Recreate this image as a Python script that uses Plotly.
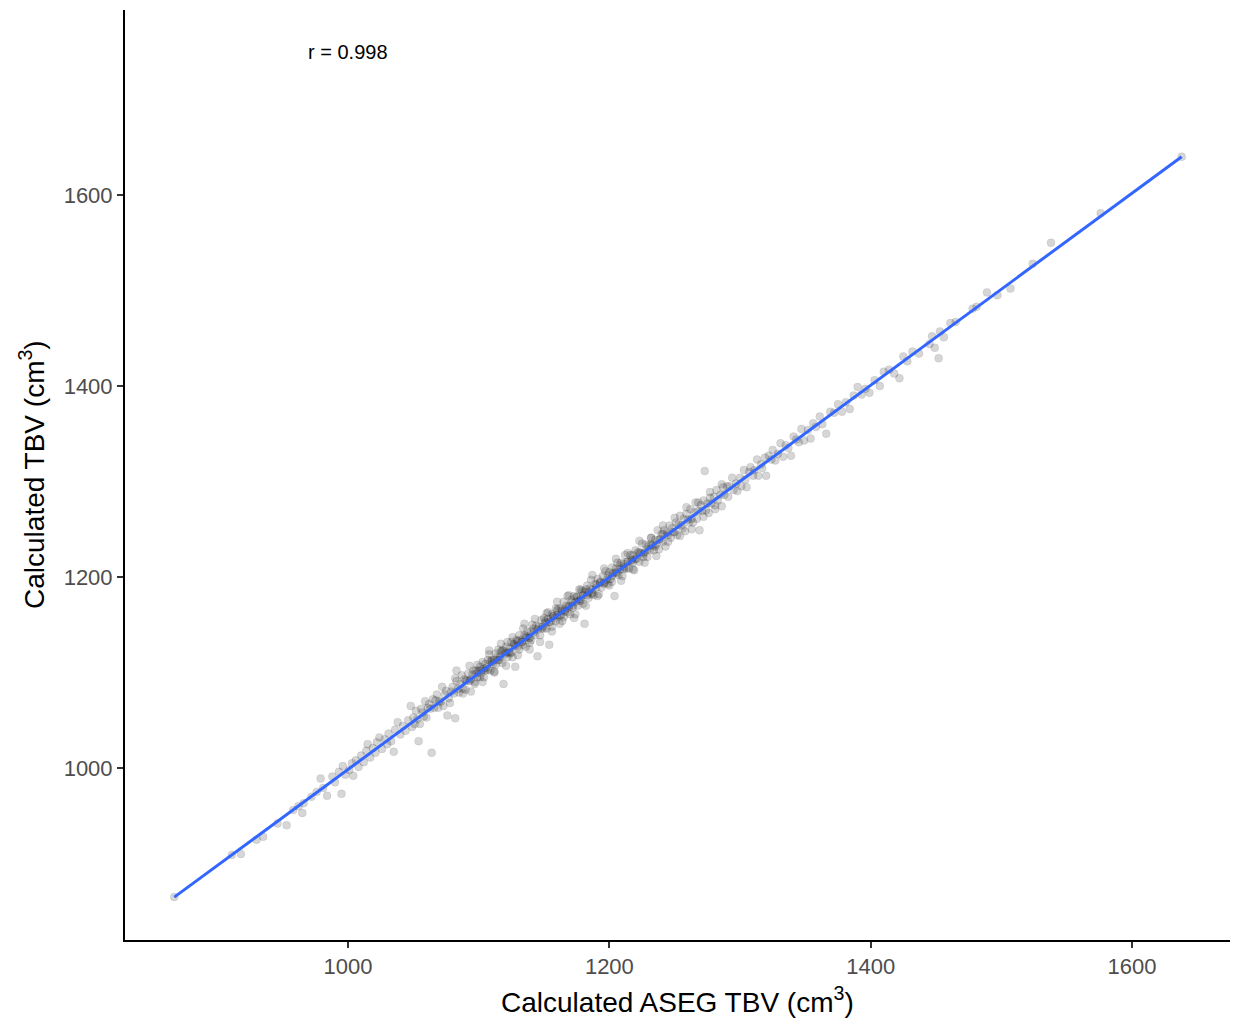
import numpy as np
import plotly.graph_objects as go

# Total brain volume (cm^3): ASEG-derived (x) vs calculated (y), grouped by x range
aseg_a = [867, 911, 918, 930, 935, 946, 953, 958, 962, 965, 966, 972, 976, 979, 981, 984, 988, 990, 993, 995, 996, 998]
tbv_a = [865, 909, 910, 925, 928, 942, 940, 956, 960, 953, 963, 970, 975, 989, 979, 971, 991, 985, 996, 973, 1002, 993]

aseg_b = [1001, 1003, 1004, 1006, 1008, 1010, 1012, 1014, 1015, 1017, 1019, 1021, 1022, 1024, 1026, 1028, 1030, 1031,
          1033, 1035, 1036, 1038, 1040, 1042, 1044, 1046, 1048, 1049]
tbv_b = [998, 1005, 992, 1008, 1001, 1013, 1006, 1018, 1025, 1011, 1021, 1016, 1027, 1032, 1020, 1030, 1025, 1036,
         1028, 1017, 1040, 1048, 1035, 1044, 1039, 1050, 1065, 1043]

aseg_c = [1050, 1051, 1052, 1053, 1054, 1055, 1056, 1057, 1058, 1059, 1060, 1061, 1062, 1063, 1064, 1065, 1066, 1067,
          1068, 1069, 1070, 1071, 1072, 1073, 1074, 1075, 1076, 1077, 1078, 1079, 1080, 1081, 1082, 1083, 1083, 1084,
          1085, 1086, 1087, 1088, 1089, 1090, 1091, 1092, 1093, 1094, 1095, 1096, 1097, 1098, 1099, 1099]
tbv_c = [1053, 1046, 1060, 1051, 1028, 1046, 1062, 1058, 1054, 1070, 1053, 1063, 1067, 1062, 1016, 1072, 1063, 1071,
         1077, 1063, 1070, 1069, 1085, 1065, 1077, 1081, 1055, 1073, 1068, 1080, 1085, 1078, 1052, 1091, 1102, 1083,
         1079, 1088, 1097, 1083, 1093, 1082, 1091, 1099, 1091, 1080, 1098, 1102, 1090, 1099, 1108, 1095]

aseg_d = [1100, 1101, 1101, 1102, 1103, 1104, 1104, 1105, 1106, 1107, 1107, 1108, 1109, 1110, 1110, 1111, 1112, 1113,
          1113, 1114, 1115, 1116, 1116, 1117, 1118, 1119, 1119, 1120, 1121, 1122, 1122, 1123, 1124, 1125, 1125, 1126,
          1127, 1128, 1128, 1129, 1130, 1131, 1131, 1132, 1133, 1134, 1134, 1135, 1136, 1137, 1137, 1138, 1139, 1140,
          1140, 1141, 1142, 1143, 1144, 1145, 1146, 1147, 1148, 1149]
tbv_d = [1102, 1095, 1106, 1099, 1111, 1104, 1095, 1109, 1105, 1113, 1103, 1119, 1102, 1111, 1113, 1109, 1100, 1120,
         1108, 1116, 1124, 1113, 1116, 1122, 1110, 1088, 1123, 1119, 1127, 1116, 1132, 1121, 1125, 1121, 1132, 1116,
         1130, 1106, 1128, 1134, 1127, 1139, 1124, 1134, 1132, 1146, 1129, 1139, 1127, 1138, 1143, 1136, 1124, 1143,
         1134, 1150, 1142, 1139, 1149, 1117, 1148, 1139, 1155, 1148]

aseg_e = [1150, 1150, 1151, 1152, 1153, 1153, 1154, 1155, 1156, 1156, 1157, 1158, 1159, 1159, 1160, 1161, 1162, 1162,
          1163, 1164, 1165, 1165, 1166, 1167, 1168, 1168, 1169, 1170, 1171, 1171, 1172, 1173, 1174, 1174, 1175, 1176,
          1177, 1177, 1178, 1179, 1180, 1180, 1181, 1182, 1183, 1183, 1184, 1185, 1186, 1186, 1187, 1188, 1189, 1190,
          1191, 1192, 1193, 1194, 1195, 1196, 1197, 1198, 1199]
tbv_e = [1146, 1157, 1152, 1146, 1156, 1163, 1129, 1153, 1161, 1148, 1159, 1157, 1167, 1154, 1160, 1167, 1159, 1151,
         1167, 1165, 1158, 1174, 1164, 1170, 1163, 1180, 1168, 1161, 1176, 1173, 1168, 1180, 1161, 1174, 1179, 1170,
         1187, 1175, 1175, 1185, 1172, 1181, 1151, 1187, 1181, 1191, 1178, 1188, 1197, 1182, 1187, 1181, 1193, 1189,
         1198, 1182, 1195, 1189, 1201, 1193, 1206, 1197, 1193]

aseg_f = [1200, 1201, 1202, 1202, 1203, 1204, 1205, 1206, 1206, 1207, 1208, 1209, 1210, 1211, 1211, 1212, 1213, 1214,
          1215, 1216, 1217, 1218, 1218, 1219, 1220, 1221, 1222, 1223, 1224, 1225, 1226, 1227, 1228, 1229, 1230, 1231,
          1232, 1233, 1234, 1235, 1236, 1237, 1238, 1239, 1240, 1241, 1242, 1243, 1244, 1245, 1246, 1247, 1248, 1249]
tbv_f = [1205, 1198, 1210, 1195, 1204, 1180, 1209, 1204, 1215, 1202, 1208, 1215, 1201, 1214, 1210, 1223, 1209, 1216,
         1209, 1223, 1217, 1215, 1223, 1207, 1228, 1219, 1226, 1216, 1225, 1235, 1221, 1226, 1234, 1221, 1233, 1228,
         1241, 1233, 1228, 1239, 1234, 1249, 1229, 1240, 1245, 1237, 1249, 1232, 1246, 1244, 1254, 1241, 1251, 1247]

aseg_g = [1250, 1251, 1252, 1253, 1254, 1255, 1256, 1257, 1258, 1259, 1260, 1261, 1262, 1263, 1264, 1265, 1266, 1267,
          1268, 1269, 1270, 1271, 1272, 1273, 1274, 1275, 1276, 1277, 1278, 1280, 1281, 1282, 1283, 1285, 1286, 1287,
          1288, 1290, 1291, 1292, 1294, 1295, 1297, 1298]
tbv_g = [1247, 1257, 1244, 1255, 1264, 1254, 1251, 1261, 1248, 1266, 1260, 1257, 1271, 1261, 1257, 1268, 1278, 1261,
         1269, 1249, 1275, 1269, 1280, 1311, 1270, 1277, 1267, 1283, 1277, 1284, 1275, 1291, 1280, 1286, 1274, 1294,
         1286, 1295, 1284, 1295, 1304, 1291, 1298, 1290]

aseg_h = [1300, 1301, 1303, 1304, 1305, 1307, 1308, 1310, 1311, 1313, 1314, 1316, 1317, 1319, 1320, 1322, 1324, 1325,
          1327, 1329, 1331, 1333, 1335, 1337, 1339, 1341, 1343, 1345, 1347, 1349, 1352, 1354, 1356, 1358, 1361, 1363,
          1366, 1369, 1372, 1375, 1378, 1381, 1384, 1387, 1390, 1393, 1396, 1399]
tbv_h = [1304, 1295, 1312, 1302, 1294, 1310, 1315, 1306, 1312, 1323, 1306, 1318, 1314, 1325, 1306, 1327, 1323, 1333,
         1322, 1329, 1340, 1326, 1338, 1335, 1327, 1347, 1344, 1341, 1355, 1343, 1354, 1345, 1361, 1357, 1368, 1360,
         1350, 1373, 1372, 1381, 1373, 1383, 1376, 1390, 1399, 1391, 1397, 1393]

aseg_i = [1403, 1407, 1410, 1414, 1418, 1422, 1425, 1428, 1432, 1437, 1445, 1447, 1449, 1452, 1453, 1456, 1461, 1465,
          1478, 1481, 1489, 1497, 1507, 1524, 1538, 1576, 1638]
tbv_i = [1406, 1400, 1415, 1417, 1413, 1408, 1431, 1426, 1436, 1434, 1444, 1452, 1440, 1429, 1457, 1451, 1466, 1467,
         1481, 1483, 1498, 1495, 1502, 1528, 1550, 1581, 1640]

# Further subjects in the crowded middle of the range
aseg_j = [1082, 1088, 1093, 1097, 1103, 1108, 1112, 1117, 1121, 1126, 1130, 1135, 1139, 1143, 1147, 1152, 1156, 1160,
          1164, 1169, 1173, 1178, 1182, 1187, 1191, 1196, 1200, 1205, 1209, 1214, 1218, 1223, 1227, 1232, 1236, 1241,
          1245, 1250, 1254, 1259, 1263, 1268, 1272, 1277, 1281, 1286]
tbv_j = [1094, 1078, 1107, 1088, 1090, 1123, 1101, 1130, 1107, 1137, 1118, 1151, 1131, 1156, 1132, 1162, 1143, 1174,
         1154, 1181, 1157, 1187, 1170, 1202, 1180, 1209, 1191, 1219, 1196, 1225, 1208, 1238, 1215, 1241, 1222, 1254,
         1237, 1262, 1243, 1273, 1250, 1278, 1263, 1289, 1271, 1297]

aseg_k = [1090, 1094, 1098, 1102, 1105, 1109, 1112, 1115, 1118, 1121, 1124, 1127, 1130, 1133, 1136, 1139, 1142, 1145,
          1148, 1151, 1154, 1157, 1160, 1163, 1166, 1169, 1172, 1175, 1178, 1181, 1184, 1187, 1190, 1193, 1196, 1199,
          1202, 1205, 1208, 1211, 1214, 1217, 1220, 1223, 1226, 1229, 1232, 1235, 1238, 1241]
tbv_k = [1092, 1093, 1102, 1102, 1102, 1112, 1113, 1113, 1123, 1121, 1120, 1129, 1133, 1132, 1137, 1136, 1146, 1145,
         1146, 1154, 1153, 1159, 1165, 1160, 1166, 1170, 1170, 1179, 1177, 1184, 1184, 1183, 1192, 1194, 1194, 1202,
         1201, 1205, 1212, 1208, 1216, 1218, 1219, 1226, 1224, 1229, 1234, 1232, 1239, 1245]

x_ticks = [1000, 1200, 1400, 1600]
y_ticks = [1000, 1200, 1400, 1600]
r_label = "r = 0.998"

aseg = np.array(aseg_a + aseg_b + aseg_c + aseg_d + aseg_e + aseg_f + aseg_g + aseg_h + aseg_i + aseg_j + aseg_k,
                dtype=float)
tbv = np.array(tbv_a + tbv_b + tbv_c + tbv_d + tbv_e + tbv_f + tbv_g + tbv_h + tbv_i + tbv_j + tbv_k, dtype=float)

# Least-squares fit line across the observed x range
slope, intercept = np.polyfit(aseg, tbv, 1)
fit_x = np.array([aseg.min(), aseg.max()])
fit_y = slope * fit_x + intercept

FONT = "Liberation Sans, Arial, Helvetica, sans-serif"

fig = go.Figure()
fig.add_trace(go.Scatter(
    x=aseg, y=tbv, mode="markers",
    marker=dict(size=8, color="rgba(0,0,0,0.16)", line=dict(width=0.7, color="rgba(0,0,0,0.10)")),
    hoverinfo="skip", showlegend=False,
))
fig.add_trace(go.Scatter(
    x=fit_x, y=fit_y, mode="lines",
    line=dict(color="#3366FF", width=3),
    hoverinfo="skip", showlegend=False,
))

axis_common = dict(
    showgrid=False, zeroline=False, showline=True, linecolor="black", linewidth=2,
    ticks="outside", ticklen=6, tickwidth=1.5, tickcolor="#333333",
    tickfont=dict(family=FONT, size=22, color="#4d4d4d"),
)

fig.update_layout(
    width=1235, height=1018,
    margin=dict(l=125, r=5, t=10, b=78),
    paper_bgcolor="white", plot_bgcolor="white",
    xaxis=dict(range=[829.3, 1675], tickvals=x_ticks, **axis_common),
    yaxis=dict(range=[819.9, 1793.7], tickvals=y_ticks, **axis_common),
    annotations=[
        dict(x=1000, y=1750, xref="x", yref="y", text=r_label, showarrow=False,
             font=dict(family=FONT, size=20, color="black"), xanchor="center", yanchor="middle"),
        dict(x=0.5, y=0, xref="paper", yref="paper", yshift=-60, text="Calculated ASEG TBV (cm<sup>3</sup>)",
             showarrow=False, font=dict(family=FONT, size=28, color="black"), xanchor="center", yanchor="middle"),
        dict(x=0, y=0.5, xref="paper", yref="paper", xshift=-93, text="Calculated TBV (cm<sup>3</sup>)",
             textangle=-90, showarrow=False, font=dict(family=FONT, size=28, color="black"),
             xanchor="center", yanchor="middle"),
    ],
)

fig.write_html("out.html")
